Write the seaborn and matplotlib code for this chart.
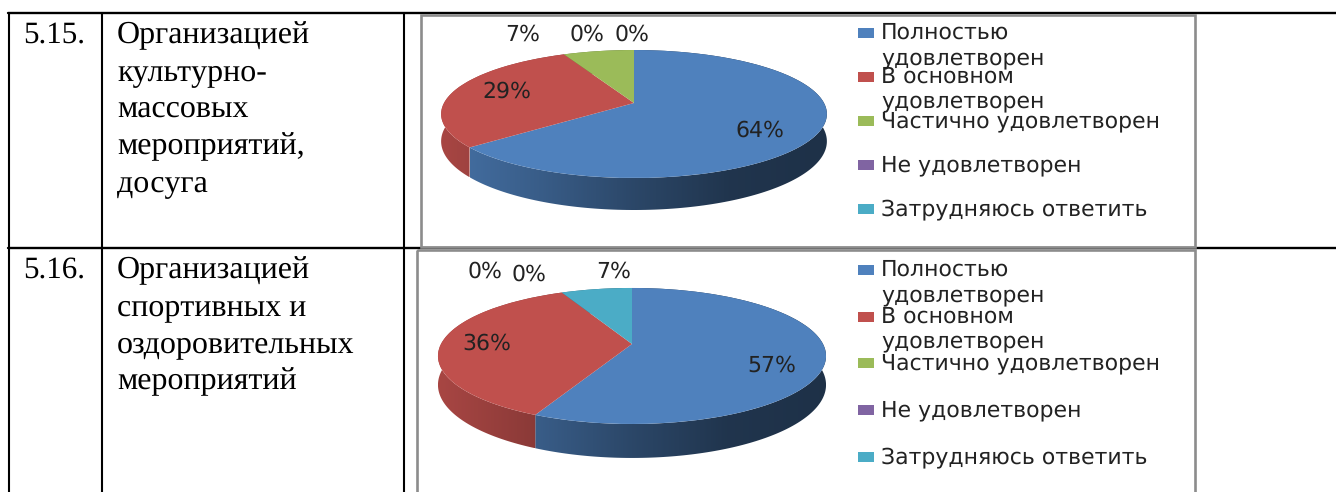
import numpy as np
import seaborn as sns
import matplotlib.pyplot as plt
from matplotlib.patches import Polygon, Rectangle
from matplotlib.transforms import Transform

# values of the two pies
answers = ['Полностью\nудовлетворен', 'В основном\nудовлетворен', 'Частично удовлетворен',
           'Не удовлетворен', 'Затрудняюсь ответить']
culture_pct = [64, 29, 7, 0, 0]
sport_pct = [57, 36, 0, 0, 7]

# table text
row_numbers = ['5.15.', '5.16.']
row_titles = [['Организацией', 'культурно-', 'массовых', 'мероприятий,', 'досуга'],
              ['Организацией', 'спортивных и', 'оздоровительных', 'мероприятий']]

sns.set_theme(style='white')
plt.rcParams['font.family'] = ['DejaVu Sans']
plt.rcParams['text.hinting'] = 'no_hinting'
plt.rcParams['text.hinting_factor'] = 1
colors = sns.color_palette(['#4F81BD', '#C0504D', '#9BBB59', '#8064A2', '#4BACC6'])
TEXT = '#222222'
GRAY = '#8c8c8c'


class Tilt(Transform):
    # unit disc -> tilted disc in pixels, the far edge is a bit smaller
    input_dims = 2
    output_dims = 2
    is_separable = False
    has_inverse = False

    def __init__(self, cx, cy, a, b, k, drop=0):
        super().__init__()
        self.cx, self.cy, self.a, self.b, self.k, self.drop = cx, cy, a, b, k, drop

    def transform_non_affine(self, values):
        x, y = np.asarray(values).T
        w = 1 + self.k * y
        return np.column_stack([self.cx + self.a * x / w,
                                self.cy - (self.b * y - self.drop) / w])


def draw_pie(ax, values, cx, cy, a, b, k, drop):
    wedges, _ = ax.pie(values, colors=colors, startangle=90, counterclock=False, radius=1,
                       wedgeprops={'linewidth': 0})
    top = Tilt(cx, cy, a, b, k)
    low = Tilt(cx, cy, a, b, k, drop)
    for wedge, col in zip(wedges, colors):
        wedge.set_transform(top + ax.transData)
        wedge.set_zorder(3)
        if wedge.theta2 <= wedge.theta1:
            continue
        # side wall, darker to the right
        t = np.radians(np.linspace(wedge.theta1, wedge.theta2, 200))
        rim = np.column_stack([np.cos(t), np.sin(t)])
        up = top.transform_non_affine(rim)
        dn = low.transform_non_affine(rim)
        x0, x1 = up[:, 0].min(), up[:, 0].max()
        y0, y1 = up[:, 1].min(), dn[:, 1].max()
        u = np.linspace(x0, x1, 256)
        shade = np.interp((u - cx) / a, [-1, -0.5, 0, 0.5, 1], [0.87, 0.72, 0.55, 0.41, 0.38])
        grad = shade[None, :, None] * np.array(col)[None, None, :]
        img = ax.imshow(grad, extent=(x0, x1, y1, y0), aspect='auto', zorder=2,
                        interpolation='bilinear')
        wall = Polygon(np.vstack([up, dn[::-1]]), closed=True, transform=ax.transData,
                       fc='none', lw=0)
        ax.add_patch(wall)
        img.set_clip_path(wall)


def draw_legend(ax, swatch_y, line_y):
    for col, y in zip(colors, swatch_y):
        ax.add_patch(Rectangle((858, y - 5), 16, 10, color=col, lw=0, zorder=4))
    lines = [ln for name in answers for ln in name.split('\n')]
    for line, y in zip(lines, line_y):
        ax.text(881, y, line, fontsize=15.5, color=TEXT, va='center', ha='left')


fig = plt.figure(figsize=(13.36, 4.92), dpi=100)
ax = fig.add_axes([0, 0, 1, 1])

draw_pie(ax, culture_pct, 634, 103, 190, 62.1, 0.172, 26.5)
draw_pie(ax, sport_pct, 632, 344, 191, 65.9, 0.176, 28)

ax.set_aspect('auto')
ax.set_xlim(0, 1336)
ax.set_ylim(492, 0)
ax.set_xticks([])
ax.set_yticks([])
ax.axis('off')

# table rules
for y in (13, 247.5):
    ax.plot([8, 1336], [y, y], color='black', lw=1.7, zorder=1)
for x in (8.5, 102, 404):
    ax.plot([x, x], [13, 492], color='black', lw=1.5, zorder=1)

# chart frames
ax.add_patch(Rectangle((421, 15), 774, 232, fill=False, ec=GRAY, lw=1.9, zorder=5))
ax.add_patch(Rectangle((417, 250), 778, 260, fill=False, ec=GRAY, lw=1.9, zorder=5))

# percent labels
culture_xy = [(760, 131), (507, 92), (523, 35), (587, 35), (632, 35)]
sport_xy = [(772, 366), (487, 344), (485, 272), (529, 275), (614, 272)]
for vals, spots in ((culture_pct, culture_xy), (sport_pct, sport_xy)):
    for val, (x, y) in zip(vals, spots):
        ax.text(x, y, f'{val}%', fontsize=15.5, color=TEXT, ha='center', va='center', zorder=6)

draw_legend(ax, [33, 77, 121, 165, 209], [33, 58, 77, 101, 121, 165, 209])
draw_legend(ax, [270, 317, 363, 410, 457], [270, 295, 317, 341, 363, 410, 457])

# left columns of the table
for number, title, y0 in zip(row_numbers, row_titles, (35, 270)):
    ax.text(23, y0, number, family='Liberation Serif', fontsize=22.5, color='black', va='center')
    for i, line in enumerate(title):
        ax.text(117, y0 + i * 37, line, family='Liberation Serif', fontsize=23,
                color='black', va='center')

plt.savefig('out.png', dpi=100)
